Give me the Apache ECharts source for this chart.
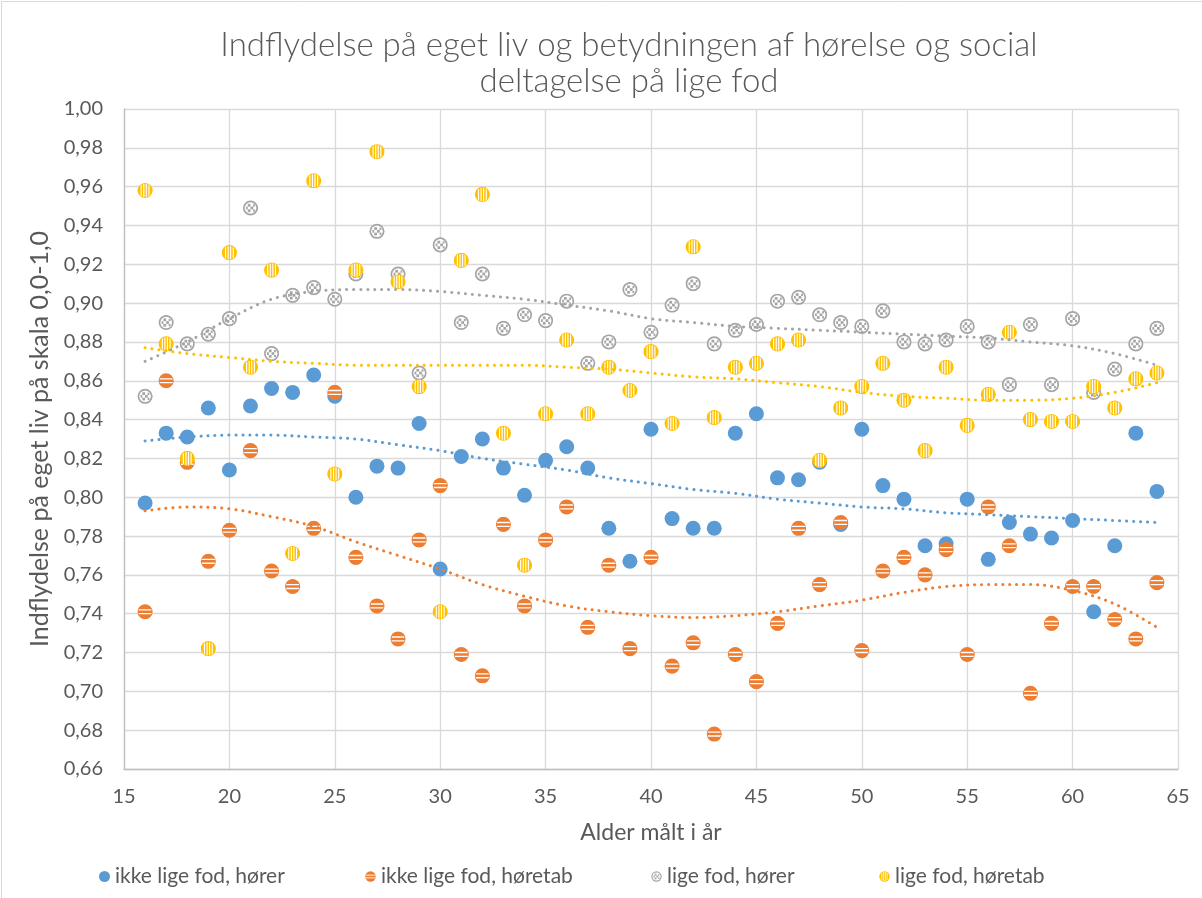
<!DOCTYPE html>
<html>
<head>
<meta charset="utf-8">
<script src="https://cdn.jsdelivr.net/npm/echarts@6/dist/echarts.min.js"></script>
<style>
  html, body { margin: 0; padding: 0; background: #fff; }
  #chart { width: 1202px; height: 898px; }
</style>
</head>
<body>
<div id="chart"></div>
<script>
// Alder (x) for every observation
const ages = [16,17,18,19,20,21,22,23,24,25,26,27,28,29,30,31,32,33,34,35,36,37,38,39,40,
              41,42,43,44,45,46,47,48,49,50,51,52,53,54,55,56,57,58,59,60,61,62,63,64];

// ikke lige fod, hører
const ikkeHorer = [0.797,0.833,0.831,0.846,0.814,0.847,0.856,0.854,0.863,0.852,
                   0.800,0.816,0.815,0.838,0.763,0.821,0.830,0.815,0.801,0.819,
                   0.826,0.815,0.784,0.767,0.835,0.789,0.784,0.784,0.833,0.843,
                   0.810,0.809,0.818,0.786,0.835,0.806,0.799,0.775,0.776,0.799,
                   0.768,0.787,0.781,0.779,0.788,0.741,0.775,0.833,0.803];
// ikke lige fod, høretab
const ikkeHoretab = [0.741,0.860,0.818,0.767,0.783,0.824,0.762,0.754,0.784,0.854,
                     0.769,0.744,0.727,0.778,0.806,0.719,0.708,0.786,0.744,0.778,
                     0.795,0.733,0.765,0.722,0.769,0.713,0.725,0.678,0.719,0.705,
                     0.735,0.784,0.755,0.787,0.721,0.762,0.769,0.760,0.773,0.719,
                     0.795,0.775,0.699,0.735,0.754,0.754,0.737,0.727,0.756];
// lige fod, hører
const ligeHorer = [0.852,0.890,0.879,0.884,0.892,0.949,0.874,0.904,0.908,0.902,
                   0.915,0.937,0.915,0.864,0.930,0.890,0.915,0.887,0.894,0.891,
                   0.901,0.869,0.880,0.907,0.885,0.899,0.910,0.879,0.886,0.889,
                   0.901,0.903,0.894,0.890,0.888,0.896,0.880,0.879,0.881,0.888,
                   0.880,0.858,0.889,0.858,0.892,0.854,0.866,0.879,0.887];
// lige fod, høretab
const ligeHoretab = [0.958,0.879,0.820,0.722,0.926,0.867,0.917,0.771,0.963,0.812,
                     0.917,0.978,0.911,0.857,0.741,0.922,0.956,0.833,0.765,0.843,
                     0.881,0.843,0.867,0.855,0.875,0.838,0.929,0.841,0.867,0.869,
                     0.879,0.881,0.819,0.846,0.857,0.869,0.850,0.824,0.867,0.837,
                     0.853,0.885,0.840,0.839,0.839,0.857,0.846,0.861,0.864];

// Polynomial trend curves, sampled every second year
const trendAges = [16,18,20,22,24,26,28,30,32,34,36,38,40,42,44,46,48,50,52,54,56,58,60,62,64];
const trendIkkeHorer = [0.829,0.831,0.832,0.832,0.831,0.830,0.827,0.824,0.820,0.817,0.814,0.810,0.807,
                        0.804,0.802,0.799,0.797,0.795,0.794,0.792,0.791,0.790,0.789,0.788,0.787];
const trendIkkeHoretab = [0.793,0.795,0.794,0.790,0.785,0.777,0.770,0.763,0.755,0.749,0.744,0.741,0.739,
                          0.738,0.739,0.741,0.744,0.747,0.751,0.754,0.755,0.755,0.752,0.745,0.733];
const trendLigeHorer = [0.870,0.880,0.892,0.902,0.906,0.907,0.907,0.906,0.904,0.902,0.899,0.896,0.892,
                        0.890,0.888,0.887,0.886,0.885,0.884,0.883,0.882,0.880,0.878,0.874,0.868];
const trendLigeHoretab = [0.877,0.874,0.872,0.870,0.869,0.868,0.868,0.868,0.868,0.868,0.867,0.866,0.864,
                          0.862,0.861,0.859,0.857,0.854,0.852,0.851,0.850,0.850,0.851,0.854,0.859];

const seriesNames = ['ikke lige fod, hører', 'ikke lige fod, høretab', 'lige fod, hører', 'lige fod, høretab'];
const xTicks = [15, 20, 25, 30, 35, 40, 45, 50, 55, 60, 65];

const C_BLUE = '#5B9BD5', C_ORANGE = '#ED7D31', C_GRAY = '#A5A5A5', C_YELLOW = '#FFC000';
const FONT = 'Lato, "Open Sans", sans-serif';
const TXT = '#595959';

// Patterned marker glyphs
function svgSymbol(body) {
  const svg = "<svg xmlns='http://www.w3.org/2000/svg' width='28' height='28' viewBox='0 0 14 14'>" +
              "<defs><clipPath id='c'><circle cx='7' cy='7' r='5.9'/></clipPath></defs>" + body + "</svg>";
  return 'image://data:image/svg+xml;charset=utf-8,' + encodeURIComponent(svg);
}
const symStripesH = svgSymbol(
  "<circle cx='7' cy='7' r='6.6' fill='" + C_ORANGE + "'/>" +
  "<g clip-path='url(#c)' stroke='#fff' stroke-width='1.15'>" +
  "<line x1='0' y1='5.3' x2='14' y2='5.3'/><line x1='0' y1='8.7' x2='14' y2='8.7'/></g>");
const symStripesV = svgSymbol(
  "<circle cx='7' cy='7' r='6.6' fill='" + C_YELLOW + "'/>" +
  "<g clip-path='url(#c)' stroke='#fff' stroke-width='1.0'>" +
  "<line x1='3.6' y1='0' x2='3.6' y2='14'/><line x1='5.9' y1='0' x2='5.9' y2='14'/>" +
  "<line x1='8.1' y1='0' x2='8.1' y2='14'/><line x1='10.4' y1='0' x2='10.4' y2='14'/></g>");
const symChecker = svgSymbol(
  "<circle cx='7' cy='7' r='6.6' fill='" + C_GRAY + "'/>" +
  "<circle cx='7' cy='7' r='5.1' fill='#fff'/>" +
  "<g fill='" + C_GRAY + "'>" +
  "<rect x='4.6' y='3.4' width='2.4' height='2.4'/><rect x='7' y='5.8' width='2.4' height='2.4'/>" +
  "<rect x='4.6' y='8.2' width='2.4' height='2.4'/><rect x='9.2' y='3.8' width='1.6' height='2'/>" +
  "<rect x='3.0' y='5.8' width='1.6' height='2.4'/><rect x='9.2' y='8.2' width='1.6' height='2'/></g>");

function pts(xs, ys) { return xs.map((x, i) => [x, ys[i]]); }

const chart = echarts.init(document.getElementById('chart'), null, { renderer: 'canvas' });

function scatter(name, data, color, symbol, size) {
  return {
    name: name, type: 'scatter', data: data,
    symbol: symbol, symbolSize: size,
    itemStyle: { color: color, opacity: 1 },
    emphasis: { disabled: true },
    z: 2
  };
}
function trend(id, data, color) {
  return {
    name: id, type: 'line', data: data, smooth: 0.35,
    symbol: 'none', silent: true,
    lineStyle: { color: color, width: 3, type: [0.1, 6.9], cap: 'round' },
    z: 3
  };
}

const legendBase = {
  orient: 'horizontal', top: 861, itemWidth: 11, itemHeight: 18, itemGap: 0,
  textStyle: { fontFamily: FONT, fontSize: 21, color: TXT },
  selectedMode: false
};

chart.setOption({
  animation: false,
  backgroundColor: '#fff',
  textStyle: { fontFamily: FONT },
  grid: { left: 124, right: 24, top: 109, bottom: 129, containLabel: false },
  graphic: [
    { type: 'rect', silent: true, z: -10,
      shape: { x: 1.5, y: 1.5, width: 1230, height: 930 },
      style: { fill: 'none', stroke: '#D9D9D9', lineWidth: 1 } },
    { type: 'text', silent: true, x: 629, y: 45,
      style: { text: 'Indflydelse på eget liv og betydningen af hørelse og social',
               x: 0, y: 0, fill: TXT, font: '300 33px ' + FONT, textAlign: 'center', textVerticalAlign: 'middle' } },
    { type: 'text', silent: true, x: 629, y: 81,
      style: { text: 'deltagelse på lige fod',
               x: 0, y: 0, fill: TXT, font: '300 33px ' + FONT, textAlign: 'center', textVerticalAlign: 'middle' } }
  ],
  xAxis: {
    type: 'value', min: xTicks[0], max: xTicks[xTicks.length - 1], interval: 5,
    name: 'Alder målt i år', nameLocation: 'middle', nameGap: 52,
    nameTextStyle: { fontFamily: FONT, fontSize: 23, color: TXT },
    axisLine: { show: true, lineStyle: { color: '#BFBFBF', width: 1.3 } },
    axisTick: { show: false },
    axisLabel: { fontFamily: FONT, fontSize: 20, color: TXT, margin: 18 },
    splitLine: { show: true, lineStyle: { color: '#D9D9D9', width: 1.3 } }
  },
  yAxis: {
    type: 'value', min: 0.66, max: 1.0, interval: 0.02,
    name: 'Indflydelse på eget liv på skala 0,0-1,0', nameLocation: 'middle', nameGap: 68,
    nameRotate: 90,
    nameTextStyle: { fontFamily: FONT, fontSize: 25, color: TXT },
    axisLine: { show: true, lineStyle: { color: '#BFBFBF', width: 1.3 } },
    axisTick: { show: false },
    axisLabel: { fontFamily: FONT, fontSize: 20, color: TXT, margin: 21,
                 formatter: v => v.toFixed(2).replace('.', ',') },
    splitLine: { show: true, lineStyle: { color: '#D9D9D9', width: 1.3 } }
  },
  legend: [
    Object.assign({ left: 94, data: [seriesNames[0]] }, legendBase),
    Object.assign({ left: 360, data: [seriesNames[1]] }, legendBase),
    Object.assign({ left: 646, data: [seriesNames[2]] }, legendBase),
    Object.assign({ left: 874, data: [seriesNames[3]] }, legendBase)
  ],
  series: [
    scatter(seriesNames[0], pts(ages, ikkeHorer), C_BLUE, 'circle', 15),
    scatter(seriesNames[1], pts(ages, ikkeHoretab), C_ORANGE, symStripesH, 16),
    scatter(seriesNames[2], pts(ages, ligeHorer), C_GRAY, symChecker, 16),
    scatter(seriesNames[3], pts(ages, ligeHoretab), C_YELLOW, symStripesV, 16),
    trend('trend-ikke-horer', pts(trendAges, trendIkkeHorer), C_BLUE),
    trend('trend-ikke-horetab', pts(trendAges, trendIkkeHoretab), C_ORANGE),
    trend('trend-lige-horer', pts(trendAges, trendLigeHorer), C_GRAY),
    trend('trend-lige-horetab', pts(trendAges, trendLigeHoretab), C_YELLOW)
  ]
});
</script>
</body>
</html>
